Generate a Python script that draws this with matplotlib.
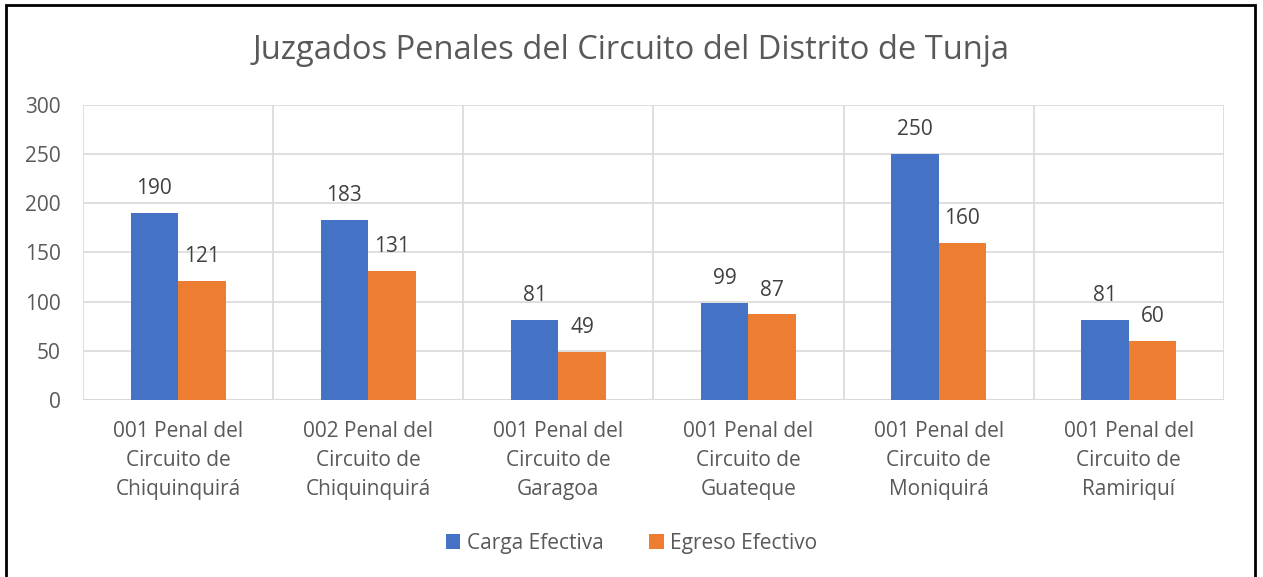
import numpy as np
import matplotlib.pyplot as plt
from matplotlib.patches import Rectangle

categorias = ['001 Penal del\nCircuito de\nChiquinquirá', '002 Penal del\nCircuito de\nChiquinquirá',
              '001 Penal del\nCircuito de\nGaragoa', '001 Penal del\nCircuito de\nGuateque',
              '001 Penal del\nCircuito de\nMoniquirá', '001 Penal del\nCircuito de\nRamiriquí']
carga = [190, 183, 81, 99, 250, 81]
egreso = [121, 131, 49, 87, 160, 60]

gris = '#595959'
plt.rcParams['font.family'] = ['Open Sans', 'DejaVu Sans']

fig = plt.figure(figsize=(12.63, 5.77), dpi=100)
ax = fig.add_axes([0.0657, 0.3068, 0.9033, 0.5113])

x = np.arange(len(categorias))
w = 0.25
b1 = ax.bar(x - w / 2, carga, w, color='#4472C4', label='Carga Efectiva', zorder=3)
b2 = ax.bar(x + w / 2, egreso, w, color='#ED7D31', label='Egreso Efectivo', zorder=3)

for bars in (b1, b2):
    for b in bars:
        ax.annotate(str(int(b.get_height())), (b.get_x() + b.get_width() / 2, b.get_height()),
                    xytext=(0, 10), textcoords='offset points', ha='center', va='bottom',
                    fontsize=15, color='#404040')

ax.set_xlim(-0.5, len(categorias) - 0.5)
ax.set_ylim(0, 300)
ax.set_yticks(range(0, 301, 50))
ax.set_xticks(x)
ax.set_xticklabels(categorias, fontsize=15, color=gris, linespacing=1.52)
ax.tick_params(axis='y', labelsize=15, labelcolor=gris, length=0, pad=16)
ax.tick_params(axis='x', length=0, pad=15)

ax.grid(axis='y', color='#D9D9D9', linewidth=1.2, zorder=0)
for xb in np.arange(-0.5, len(categorias), 1):
    ax.axvline(xb, color='#D9D9D9', linewidth=1.2, zorder=0)
for s in ax.spines.values():
    s.set_visible(False)
ax.axhline(0, color='#D9D9D9', linewidth=1.5, zorder=2)

fig.text(0.5, 0.913, 'Juzgados Penales del Circuito del Distrito de Tunja', ha='center', va='center',
         fontsize=23.5, color=gris)

ax.legend(loc='center', bbox_to_anchor=(0.5, 0.058), bbox_transform=fig.transFigure, ncol=2,
          frameon=False, fontsize=15, labelcolor=gris, handlelength=0.7, handleheight=0.7,
          handletextpad=0.3, columnspacing=2.2)

fig.patches.append(Rectangle((6 / 1263, -0.01), 1249 / 1263, 1 - 5 / 577 + 0.01, transform=fig.transFigure,
                             fill=False, edgecolor='black', linewidth=2))

fig.savefig('out.png', dpi=100)
